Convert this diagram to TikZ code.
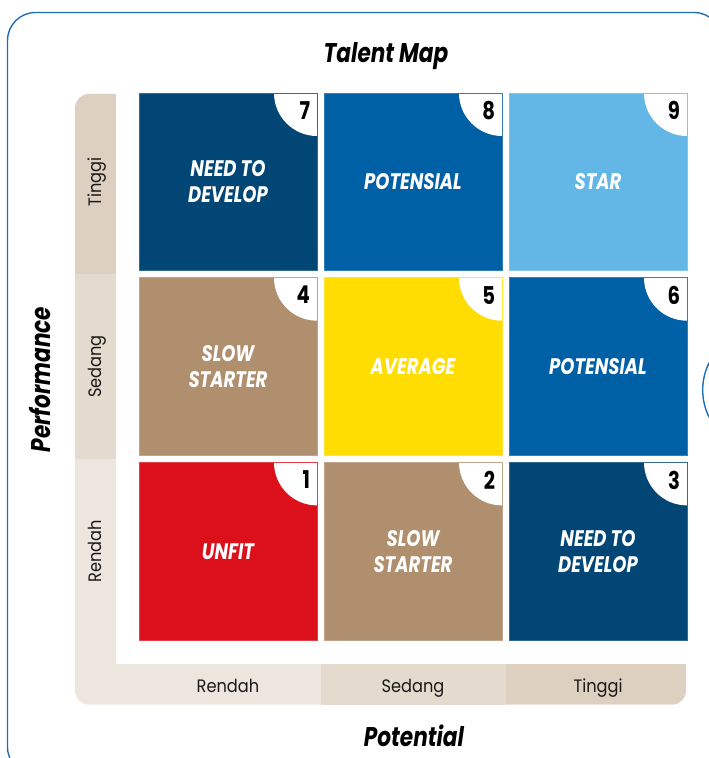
\documentclass[tikz,border=0pt]{standalone}
\usepackage{fontspec}
\newfontfamily\tmbold[FakeStretch=0.8]{Poppins}
\newfontfamily\tmreg[FakeStretch=0.9]{Poppins}

\definecolor{tmnavy}{RGB}{2,70,117}
\definecolor{tmblue}{RGB}{0,96,166}
\definecolor{tmsky}{RGB}{99,183,231}
\definecolor{tmbrown}{RGB}{176,143,110}
\definecolor{tmyellow}{RGB}{255,221,0}
\definecolor{tmred}{RGB}{220,16,27}
\definecolor{bandtinggi}{RGB}{221,208,192}
\definecolor{bandsedang}{RGB}{228,219,206}
\definecolor{bandrendah}{RGB}{237,230,223}
\definecolor{tmframe}{RGB}{30,110,180}
\definecolor{tmtext}{RGB}{25,25,25}

\begin{document}
\begin{tikzpicture}[
  x=1pt,
  y=1pt,
  every node/.style={inner sep=0pt, outer sep=0pt},
  title/.style={font=\tmbold\bfseries\itshape\fontsize{27}{30}\selectfont, text=black, anchor=base},
  axislabel/.style={font=\tmreg\fontsize{18}{20}\selectfont, text=tmtext, anchor=base},
  cell/.style={minimum width=178pt, minimum height=177.7pt, fill=#1, draw=#1!80!white, line width=0.6pt,
    path picture={\fill[white] (path picture bounding box.north east) circle[radius=43pt];},
    font=\tmbold\bfseries\itshape\fontsize{22.5}{25.7}\selectfont, text=white, align=center},
  num/.style={font=\tmbold\bfseries\fontsize{24.5}{26}\selectfont, text=black, anchor=north east}
]

  \clip (0,0) rectangle (709,758);

  % Outer frame, cut by the page edge.
  \draw[tmframe, line width=1.4pt, rounded corners=28pt] (7.5,-17) rectangle (722,745.5);
  \draw[tmframe, line width=1.4pt] (763.7,368) circle[radius=61pt];

  % Axis bands (L shape), white inside.
  \fill[bandtinggi, rounded corners=14pt] (75,470) rectangle (130,664);
  \fill[bandrendah, rounded corners=14pt] (75,53.3) rectangle (340,310);
  \fill[bandtinggi, rounded corners=14pt] (490,53.3) rectangle (686,110);
  \fill[bandsedang] (75,299) rectangle (116,484);
  \fill[bandsedang] (320.5,53.3) rectangle (505.5,94.3);
  \fill[white] (116,94.3) rectangle (700,700);

  \node[title] (maptitle) at (386,695) {Talent Map};
  \node[title] (xtitle) at (414,12) {Potential};
  \node[title, rotate=90] (ytitle) at (50,378.5) {Performance};

  % Performance levels.
  \node[axislabel, rotate=90] (ptinggi) at (101,576.15) {Tinggi};
  \node[axislabel, rotate=90] (psedang) at (101,391.45) {Sedang};
  \node[axislabel, rotate=90] (prendah) at (101,206.75) {Rendah};

  % Potential levels.
  \node[axislabel] (qrendah) at (228,65.3) {Rendah};
  \node[axislabel] (qsedang) at (413,65.3) {Sedang};
  \node[axislabel] (qtinggi) at (598,65.3) {Tinggi};

  % Top row.
  \node[cell=tmnavy] (c7) at (228,576.15) {NEED TO\\DEVELOP};
  \node[cell=tmblue] (c8) at (413,576.15) {POTENSIAL};
  \node[cell=tmsky] (c9) at (598,576.15) {STAR};
  \node[num] (n7) at ([xshift=-7pt,yshift=-8.5pt]c7.north east) {7};
  \node[num] (n8) at ([xshift=-7pt,yshift=-8.5pt]c8.north east) {8};
  \node[num] (n9) at ([xshift=-7pt,yshift=-8.5pt]c9.north east) {9};

  % Middle row.
  \node[cell=tmbrown] (c4) at (228,391.45) {SLOW\\STARTER};
  \node[cell=tmyellow] (c5) at (413,391.45) {AVERAGE};
  \node[cell=tmblue] (c6) at (598,391.45) {POTENSIAL};
  \node[num] (n4) at ([xshift=-7pt,yshift=-8.5pt]c4.north east) {4};
  \node[num] (n5) at ([xshift=-7pt,yshift=-8.5pt]c5.north east) {5};
  \node[num] (n6) at ([xshift=-7pt,yshift=-8.5pt]c6.north east) {6};

  % Bottom row.
  \node[cell=tmred] (c1) at (228,206.75) {UNFIT};
  \node[cell=tmbrown] (c2) at (413,206.75) {SLOW\\STARTER};
  \node[cell=tmnavy] (c3) at (598,206.75) {NEED TO\\DEVELOP};
  \node[num] (n1) at ([xshift=-7pt,yshift=-8.5pt]c1.north east) {1};
  \node[num] (n2) at ([xshift=-7pt,yshift=-8.5pt]c2.north east) {2};
  \node[num] (n3) at ([xshift=-7pt,yshift=-8.5pt]c3.north east) {3};

\end{tikzpicture}
\end{document}
